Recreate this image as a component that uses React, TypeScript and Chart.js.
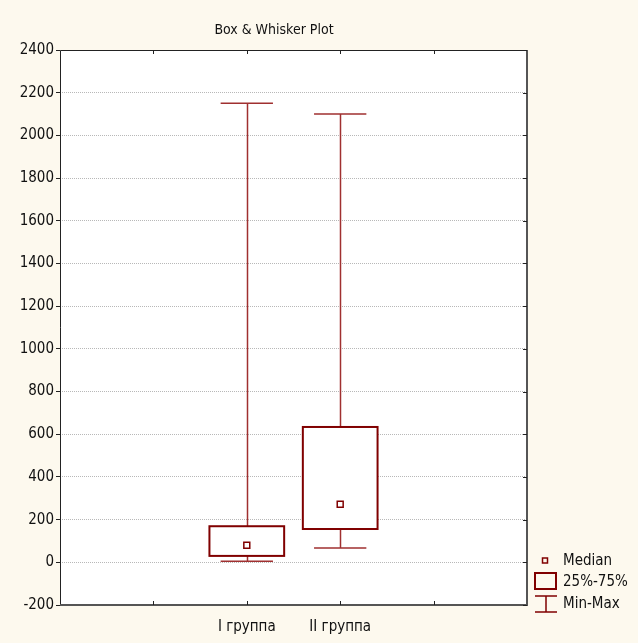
import React, { useEffect, useRef } from "react";
import { Chart, registerables } from "chart.js";

Chart.register(...registerables);

const categories = ["I группа", "II группа"];
const categoryPositions = [2, 3];
const minValues = [5, 67];
const q1Values = [30, 156];
const medianValues = [80, 272];
const q3Values = [169, 634];
const maxValues = [2150, 2100];
const yMin = -200;
const yMax = 2400;
const yStep = 200;
const xMin = 0;
const xMax = 5;
const titleText = "Box & Whisker Plot";
const legendLabels = ["Median", "25%-75%", "Min-Max"];

const FONT = "'Liberation Sans Narrow', 'DejaVu Sans Condensed', 'Arial Narrow', sans-serif";
const DARK_RED = "#800000";
const WHISKER = "#A03030";
const BG = "#FDF9EE";

const boxPlugin = {
  id: "boxPlugin",
  beforeDraw(chart: any) {
    const { ctx, chartArea } = chart;
    ctx.save();
    ctx.fillStyle = BG;
    ctx.fillRect(0, 0, chart.width, chart.height);
    ctx.fillStyle = "#ffffff";
    ctx.fillRect(chartArea.left, chartArea.top, chartArea.right - chartArea.left, chartArea.bottom - chartArea.top);
    ctx.restore();
  },
  beforeDatasetsDraw(chart: any) {
    const { ctx } = chart;
    const xs = chart.scales.x;
    const ys = chart.scales.y;
    ctx.save();
    for (let i = 0; i < categories.length; i++) {
      const p = categoryPositions[i];
      const cx = Math.round(xs.getPixelForValue(p)) + 0.5;
      const bl = xs.getPixelForValue(p - 0.4);
      const br = xs.getPixelForValue(p + 0.4);
      const cl = xs.getPixelForValue(p - 0.28);
      const cr = xs.getPixelForValue(p + 0.28);
      const yMinP = ys.getPixelForValue(minValues[i]);
      const yQ1 = ys.getPixelForValue(q1Values[i]);
      const yQ3 = ys.getPixelForValue(q3Values[i]);
      const yMaxP = ys.getPixelForValue(maxValues[i]);
      // whiskers
      ctx.strokeStyle = WHISKER;
      ctx.lineWidth = 1.5;
      ctx.beginPath();
      ctx.moveTo(cx, yQ3);
      ctx.lineTo(cx, yMaxP);
      ctx.moveTo(cx, yQ1);
      ctx.lineTo(cx, yMinP);
      ctx.stroke();
      // caps
      ctx.lineWidth = 1.5;
      ctx.beginPath();
      ctx.moveTo(cl, yMaxP);
      ctx.lineTo(cr, yMaxP);
      ctx.moveTo(cl, yMinP);
      ctx.lineTo(cr, yMinP);
      ctx.stroke();
      // box
      ctx.strokeStyle = DARK_RED;
      ctx.fillStyle = "#ffffff";
      ctx.fillRect(bl, yQ3, br - bl, yQ1 - yQ3);
      ctx.lineWidth = 2;
      ctx.strokeRect(bl, yQ3, br - bl, yQ1 - yQ3);
    }
    ctx.restore();
  },
  afterDraw(chart: any) {
    const { ctx, chartArea } = chart;
    const { left, right, top, bottom } = chartArea;
    const xs = chart.scales.x;
    const ys = chart.scales.y;
    ctx.save();
    // frame
    ctx.strokeStyle = "#222";
    ctx.lineWidth = 1;
    ctx.beginPath();
    ctx.moveTo(left + 0.5, bottom);
    ctx.lineTo(left + 0.5, top + 0.5);
    ctx.lineTo(right, top + 0.5);
    ctx.stroke();
    ctx.strokeStyle = "#555";
    ctx.lineWidth = 2;
    ctx.beginPath();
    ctx.moveTo(right, top);
    ctx.lineTo(right, bottom);
    ctx.lineTo(left, bottom);
    ctx.stroke();
    // inward ticks
    ctx.strokeStyle = "#222";
    ctx.lineWidth = 1;
    ctx.beginPath();
    xs.ticks.forEach((t: any) => {
      if (t.value <= xMin || t.value >= xMax) return;
      const x = Math.round(xs.getPixelForValue(t.value)) + 0.5;
      ctx.moveTo(x, top);
      ctx.lineTo(x, top + 4);
      ctx.moveTo(x, bottom);
      ctx.lineTo(x, bottom - 4);
    });
    ys.ticks.forEach((t: any) => {
      const y = Math.round(ys.getPixelForValue(t.value)) + 0.5;
      ctx.moveTo(right, y);
      ctx.lineTo(right - 4, y);
    });
    ctx.stroke();
    // title
    ctx.fillStyle = "#111";
    ctx.font = `14px ${FONT}`;
    ctx.textAlign = "center";
    ctx.textBaseline = "middle";
    ctx.fillText(titleText, 274, 30);
    // legend
    const lx = right + 8;
    const ty = [561, 582, 604];
    ctx.textAlign = "left";
    ctx.font = `15px ${FONT}`;
    ctx.fillText(legendLabels[0], right + 36, ty[0]);
    ctx.fillText(legendLabels[1], right + 36, ty[1]);
    ctx.fillText(legendLabels[2], right + 36, ty[2]);
    ctx.strokeStyle = DARK_RED;
    ctx.lineWidth = 1.5;
    ctx.strokeRect(lx + 7.5, ty[0] - 3, 5, 5);
    ctx.lineWidth = 2;
    ctx.strokeRect(lx, ty[1] - 9, 21, 16);
    ctx.lineWidth = 1.5;
    ctx.beginPath();
    ctx.moveTo(lx, ty[2] - 8);
    ctx.lineTo(lx + 22, ty[2] - 8);
    ctx.moveTo(lx, ty[2] + 8);
    ctx.lineTo(lx + 22, ty[2] + 8);
    ctx.moveTo(lx + 11, ty[2] - 8);
    ctx.lineTo(lx + 11, ty[2] + 8);
    ctx.stroke();
    ctx.restore();
  },
};

export default function App() {
  const canvasRef = useRef<HTMLCanvasElement | null>(null);
  useEffect(() => {
    if (!canvasRef.current) return;
    const chart = new Chart(canvasRef.current, {
      type: "scatter",
      data: {
        datasets: [
          {
            label: "Median",
            data: categoryPositions.map((p, i) => ({ x: p, y: medianValues[i] })),
            pointStyle: "rect",
            pointRadius: 4.2,
            pointBorderWidth: 1.5,
            pointBorderColor: DARK_RED,
            pointBackgroundColor: "#ffffff",
          } as any,
        ],
      },
      options: {
        animation: false,
        responsive: false,
        events: [],
        layout: { padding: { left: 0, top: 50, right: 111, bottom: 0 } },
        plugins: {
          legend: { display: false },
          title: { display: false },
          tooltip: { enabled: false },
        },
        scales: {
          x: {
            type: "linear",
            min: xMin,
            max: xMax,
            afterFit: (s: any) => {
              s.height = 38;
            },
            grid: { display: false, drawTicks: false },
            border: { display: false },
            ticks: {
              stepSize: 1,
              padding: 13,
              color: "#111",
              font: { family: FONT, size: 15 },
              maxRotation: 0,
              autoSkip: false,
              callback: (v: any) => {
                const idx = categoryPositions.indexOf(Number(v));
                return idx >= 0 ? categories[idx] : "";
              },
            },
          },
          y: {
            type: "linear",
            min: yMin,
            max: yMax,
            afterFit: (s: any) => {
              s.width = 60;
            },
            grid: {
              color: "#b8b8b8",
              lineWidth: 1,
              tickLength: 4,
              tickColor: "#222",
            },
            border: { display: false, dash: [1, 1] },
            ticks: {
              stepSize: yStep,
              padding: 2,
              color: "#111",
              font: { family: FONT, size: 15 },
              callback: (v: any) => String(v),
            },
          },
        },
      },
      plugins: [boxPlugin],
    });
    return () => chart.destroy();
  }, []);
  return (
    <div style={{ position: "fixed", left: 0, top: 0, width: 638, height: 643, background: BG }}>
      <canvas ref={canvasRef} width={638} height={643} style={{ width: 638, height: 643 }} />
    </div>
  );
}
